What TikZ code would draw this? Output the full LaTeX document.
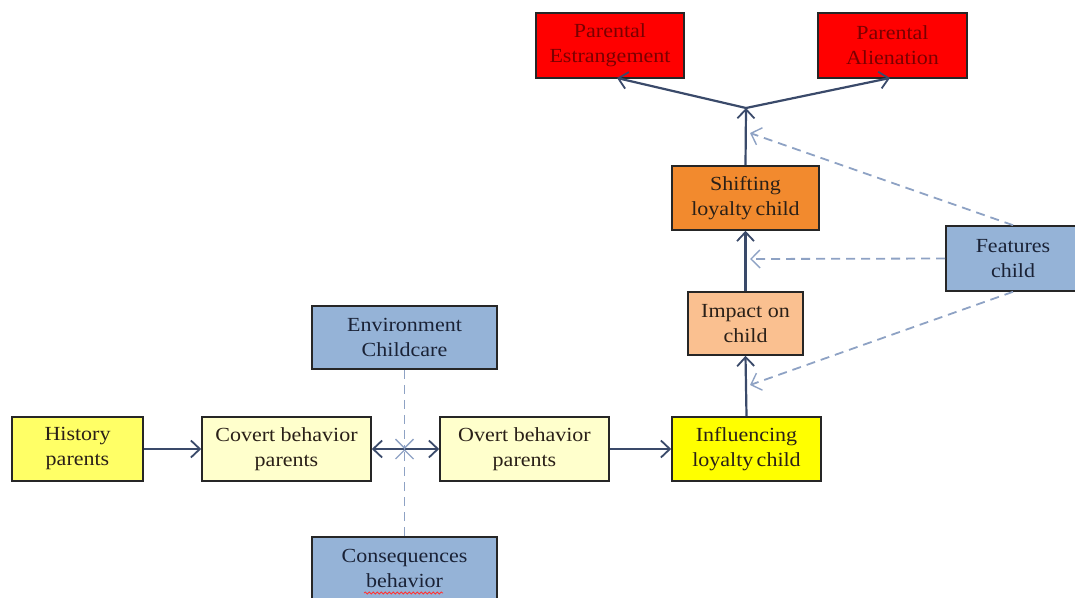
\documentclass[tikz,border=0pt]{standalone}
\usepackage{fontspec}
\setmainfont[FakeStretch=1.1]{Liberation Serif}
\usetikzlibrary{arrows.meta,decorations.pathmorphing}
\definecolor{cyel}{HTML}{FFFF66}
\definecolor{clyel}{HTML}{FFFFCC}
\definecolor{cbyel}{HTML}{FFFF00}
\definecolor{cpeach}{HTML}{FAC090}
\definecolor{corange}{HTML}{F28A2E}
\definecolor{cred}{HTML}{FF0000}
\definecolor{cblue}{HTML}{95B3D7}
\definecolor{carrow}{HTML}{3A4A6A}
\definecolor{cdash}{HTML}{8EA2C4}
\definecolor{ctext}{HTML}{2A2018}
\definecolor{cbtext}{HTML}{1A2236}
\definecolor{credtext}{HTML}{7A0000}
\tikzset{
  box/.style={draw=black!85, line width=1.6pt, align=center, inner sep=2pt,
    font=\fontsize{20}{25}\selectfont, text=ctext},
  tipb/.tip={Straight Barb[length=9pt,width=17pt,line width=1.8pt]},
  tipd/.tip={Straight Barb[length=9pt,width=18pt,line width=1.4pt]},
  solidarr/.style={draw=carrow, line width=2.2pt, -tipb},
  dasharr/.style={draw=cdash, line width=1.8pt, dash pattern=on 9pt off 6pt, -tipd}
}
\begin{document}
\begin{tikzpicture}[x=1pt,y=-1pt]
\useasboundingbox (0,0) rectangle (1075,597);
% nodes
\node[box, fill=cyel, minimum width=131pt, minimum height=64pt] (hist) at (77.5,449) {History\\parents};
\node[box, fill=clyel, minimum width=169pt, minimum height=64pt] (cov) at (286.5,449) {Covert behavior\\parents};
\node[box, fill=clyel, minimum width=169pt, minimum height=64pt] (ovt) at (524.5,449) {Overt behavior\\parents};
\node[box, fill=cbyel, minimum width=149pt, minimum height=64pt] (infl) at (746.5,449) {Influencing\\loyalty\,child};
\node[box, fill=cblue, minimum width=185pt, minimum height=63pt, text=cbtext] (env) at (404.5,337.5) {Environment\\Childcare};
\node[box, fill=cblue, minimum width=185pt, minimum height=63pt, text=cbtext] (cons) at (404.5,568.5) {Consequences\\behavior};
\node[box, fill=cpeach, minimum width=115pt, minimum height=63pt] (imp) at (745.5,323.5) {Impact on\\child};
\node[box, fill=corange, minimum width=147pt, minimum height=64pt] (shift) at (745.5,198) {Shifting\\loyalty\,child};
\node[box, fill=cblue, minimum width=134pt, minimum height=65pt, text=cbtext] (feat) at (1013,258.5) {Features\\child};
\node[box, fill=cred, minimum width=148pt, minimum height=65pt, text=credtext] (est) at (610,45.5) {Parental\\Estrangement};
\node[box, fill=cred, minimum width=149pt, minimum height=65pt, text=credtext] (alien) at (892.5,45.5) {Parental\\Alienation};
% coordinates
\coordinate (J) at (746,108);
\coordinate (X) at (404.5,449);
\coordinate (f1) at (750,133);
\coordinate (f2) at (750,259);
\coordinate (f3) at (750,385);
\coordinate (e1) at (617,78);
\coordinate (a1) at (890,78);
% solid connectors
\draw[solidarr] (hist.east) -- (cov.west);
\draw[solidarr, tipb-tipb] (cov.east) -- (ovt.west);
\draw[solidarr] (ovt.east) -- (infl.west);
\draw[solidarr] (infl.north) -- (imp.south);
\draw[solidarr] (imp.north) -- (shift.south);
\draw[solidarr] (shift.north) -- (J);
\draw[solidarr] (J) -- (e1);
\draw[solidarr] (J) -- (a1);
% dashed connectors
\draw[dasharr] (env.south) -- (X);
\draw[dasharr] (cons.north) -- (X);
\draw[dasharr] (feat.north) -- (f1);
\draw[dasharr] (feat.west) -- (f2);
\draw[dasharr] (feat.south) -- (f3);
% spell-check squiggle
\draw[red!80, line width=0.8pt, decorate, decoration={snake, amplitude=1pt, segment length=4pt}] (364,593) -- (443,593);
\end{tikzpicture}
\end{document}
